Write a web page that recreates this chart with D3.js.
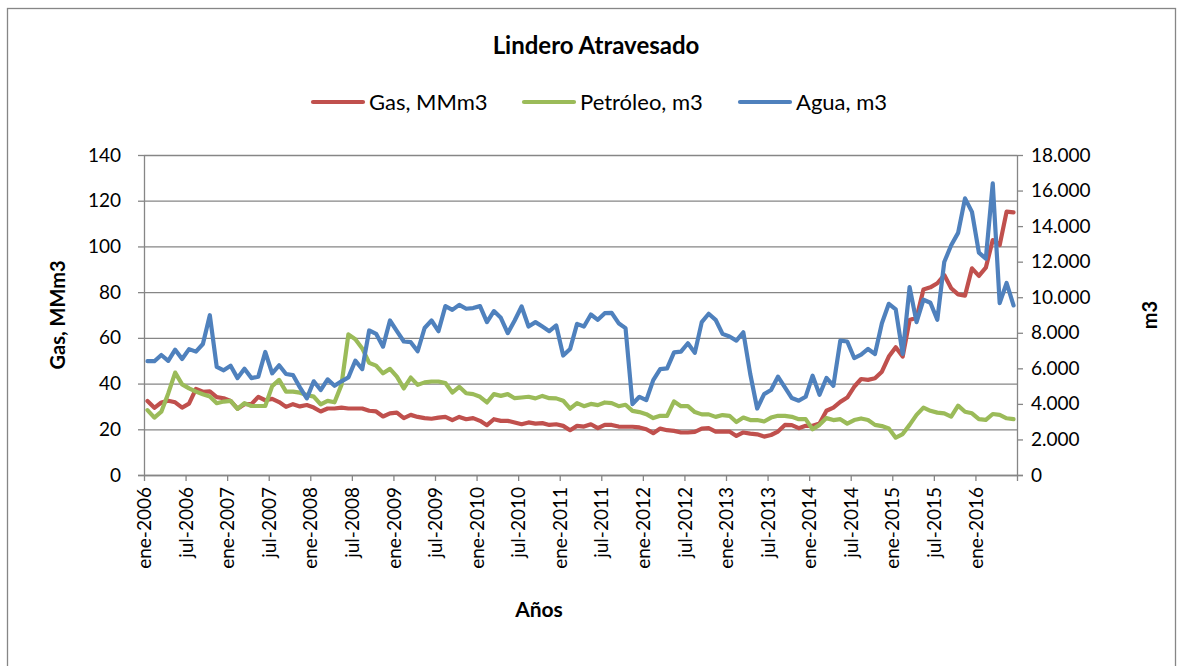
<!DOCTYPE html>
<html>
<head>
<meta charset="utf-8">
<script src="https://cdn.jsdelivr.net/npm/d3@7"></script>
<style>
  body { margin: 0; background: #fff; }
  text { font-family: Lato, "Liberation Sans", Arial, sans-serif; fill: #000; }
  .axis path, .axis line { stroke: #868686; stroke-width: 1.3; }
  .grid line { stroke: #868686; stroke-width: 1.3; }
  .grid path { display: none; }
</style>
</head>
<body>
<div id="chart"></div>
<script>
// monthly categories, ene-2006 .. jun-2016
var months = d3.timeMonth.range(new Date(2006, 0, 1), new Date(2016, 6, 1));

var tickLabels = ["ene-2006","jul-2006","ene-2007","jul-2007","ene-2008","jul-2008",
  "ene-2009","jul-2009","ene-2010","jul-2010","ene-2011","jul-2011","ene-2012",
  "jul-2012","ene-2013","jul-2013","ene-2014","jul-2014","ene-2015","jul-2015","ene-2016"];

var gasTicks = [0, 20, 40, 60, 80, 100, 120, 140];
var m3Ticks = [0, 2000, 4000, 6000, 8000, 10000, 12000, 14000, 16000, 18000];

// Gas, MMm3 (left axis)
var gas = [32.4,29.4,31.7,32.5,31.8,29.5,31.2,37.7,36.4,36.6,34.1,33.6,32.4,29.0,31.0,31.0,34.2,32.7,33.3,31.9,
  29.8,31.0,30.0,30.6,29.5,27.8,29.1,29.1,29.5,29.1,29.1,29.1,28.1,27.8,25.6,27.0,27.3,24.9,26.3,25.4,
  24.9,24.6,25.1,25.4,24.0,25.4,24.4,24.9,23.7,21.8,24.4,23.7,23.7,23.0,22.2,23.0,22.5,22.7,21.9,22.2,
  21.5,19.6,21.5,21.2,22.2,20.5,21.9,21.9,21.2,21.1,21.1,20.8,20.0,18.3,20.3,19.6,19.3,18.6,18.6,18.9,
  20.3,20.5,19.0,19.0,19.0,17.1,18.6,18.1,17.8,16.8,17.5,19.0,21.9,21.8,20.5,21.5,21.5,22.5,28.1,29.5,
  32.0,33.9,38.6,42.0,41.6,42.3,45.2,51.8,55.9,51.8,67.8,68.8,81.2,82.1,83.9,87.5,81.7,79.0,78.5,90.4,
  87.1,90.7,102.8,100.6,115.2,114.9];

// Petróleo, m3 (right axis)
var petroleo = [3650,3230,3560,4590,5760,5100,4870,4690,4540,4410,4040,4130,4170,3720,4040,3880,3880,3880,5000,5350,
  4690,4690,4630,4500,4410,3970,4170,4090,5070,7910,7640,7120,6310,6150,5720,5970,5530,4870,5480,5070,
  5210,5260,5260,5170,4640,4960,4600,4550,4400,4080,4550,4450,4550,4320,4360,4400,4310,4450,4320,4310,
  4180,3730,4040,3870,4000,3930,4080,4040,3870,3950,3610,3540,3420,3200,3330,3330,4140,3870,3870,3540,
  3410,3410,3270,3370,3330,2980,3230,3090,3090,3010,3230,3330,3330,3270,3140,3140,2570,2820,3200,3090,
  3140,2890,3090,3180,3090,2820,2750,2620,2100,2300,2820,3380,3790,3610,3510,3470,3280,3900,3560,3470,
  3140,3100,3430,3380,3190,3140];

// Agua, m3 (right axis)
var agua = [6400,6400,6750,6420,7050,6530,7080,6940,7370,8990,6080,5890,6150,5450,5980,5450,5530,6920,5720,6170,
  5680,5620,4930,4310,5270,4780,5380,5020,5270,5490,6430,5960,8130,7940,7220,8690,8090,7510,7470,6960,
  8270,8690,8090,9500,9290,9570,9350,9390,9500,8600,9220,8840,7980,8690,9480,8350,8600,8350,8090,8410,
  6720,7090,8500,8350,9030,8730,9100,9120,8540,8260,3990,4400,4210,5340,5960,6000,6900,6940,7410,6870,
  8600,9070,8730,7940,7790,7560,8030,5680,3740,4550,4780,5530,4930,4330,4180,4400,5590,4510,5460,5020,
  7560,7510,6580,6770,7090,6810,8540,9630,9310,6810,10570,8600,9860,9690,8730,11980,12920,13620,15560,14800,
  12510,12170,16400,9670,10800,9540];

var svgWidth = 1182, svgHeight = 666;
var margin = { top: 155, left: 144, right: 165, bottom: 191 };
var width = svgWidth - margin.left - margin.right;
var height = svgHeight - margin.top - margin.bottom;

var svg = d3.select("#chart").append("svg")
  .attr("width", svgWidth)
  .attr("height", svgHeight);

// chart area border
svg.append("rect")
  .attr("x", 7.5).attr("y", 8.5)
  .attr("width", 1168).attr("height", 700)
  .attr("fill", "none").attr("stroke", "#868686").attr("stroke-width", 1.3);

var chart = svg.append("g")
  .attr("transform", "translate(" + margin.left + "," + margin.top + ")");

var x = d3.scaleLinear().domain([0, months.length]).range([0, width]);
var yGas = d3.scaleLinear().domain([0, 140]).range([height, 0]);
var yM3 = d3.scaleLinear().domain([0, 18000]).range([height, 0]);

var es = d3.formatLocale({ decimal: ",", thousands: ".", grouping: [3], currency: ["", ""] });
var fmt = es.format(",");

// horizontal gridlines
chart.append("g")
  .attr("class", "grid")
  .call(d3.axisLeft(yGas).tickValues(gasTicks).tickSize(-width).tickFormat(""));

// left axis
var leftAxis = chart.append("g")
  .attr("class", "axis")
  .call(d3.axisLeft(yGas).tickValues(gasTicks).tickSize(6).tickSizeOuter(0).tickPadding(17));
leftAxis.selectAll("text").style("font-size", "19px");

// right axis
var rightAxis = chart.append("g")
  .attr("class", "axis")
  .attr("transform", "translate(" + width + ",0)")
  .call(d3.axisRight(yM3).tickValues(m3Ticks).tickSize(6).tickSizeOuter(0).tickPadding(8).tickFormat(fmt));
rightAxis.selectAll("text").style("font-size", "19px");

// bottom axis
var bottomAxis = chart.append("g")
  .attr("class", "axis")
  .attr("transform", "translate(0," + height + ")")
  .call(d3.axisBottom(x)
    .tickValues(d3.range(0, months.length + 1, 6))
    .tickSize(6).tickSizeOuter(0)
    .tickFormat(function(d) { return tickLabels[d / 6] || ""; }));
bottomAxis.select(".domain").attr("d", "M-6,0.5H" + (width + 6));
bottomAxis.selectAll("text")
  .style("font-size", "19px")
  .attr("text-anchor", "end")
  .attr("transform", "rotate(-90)")
  .attr("x", -12)
  .attr("y", 0)
  .attr("dy", "0.35em");

// lines
var series = [
  { name: "Gas, MMm3", values: gas, y: yGas, color: "#C0504D" },
  { name: "Petróleo, m3", values: petroleo, y: yM3, color: "#9BBB59" },
  { name: "Agua, m3", values: agua, y: yM3, color: "#4F81BD" }
];

series.forEach(function(s) {
  var line = d3.line()
    .x(function(d, i) { return x(i + 0.5); })
    .y(function(d) { return s.y(d); });
  chart.append("path")
    .datum(s.values)
    .attr("fill", "none")
    .attr("stroke", s.color)
    .attr("stroke-width", 4.2)
    .attr("stroke-linejoin", "round")
    .attr("stroke-linecap", "round")
    .attr("d", line);
});

// title
svg.append("text")
  .attr("x", 596).attr("y", 46)
  .attr("text-anchor", "middle").attr("dy", "0.35em")
  .style("font-size", "24px").style("font-weight", "bold")
  .text("Lindero Atravesado");

// legend
var legendX = [313, 524, 740];
var legend = svg.append("g");
series.forEach(function(s, i) {
  var g = legend.append("g").attr("transform", "translate(" + legendX[i] + ",102)");
  g.append("line").attr("x1", 0).attr("x2", 50)
    .attr("stroke", s.color).attr("stroke-width", 4.2).attr("stroke-linecap", "round");
  g.append("text").attr("x", 56).attr("dy", "0.35em")
    .style("font-size", "22px").text(s.name);
});

// axis titles
svg.append("text")
  .attr("transform", "translate(58," + (margin.top + height / 2) + ") rotate(-90)")
  .attr("text-anchor", "middle").attr("dy", "0.35em")
  .style("font-size", "20px").style("font-weight", "bold")
  .text("Gas, MMm3");

svg.append("text")
  .attr("transform", "translate(1150," + (margin.top + height / 2) + ") rotate(-90)")
  .attr("text-anchor", "middle").attr("dy", "0.35em")
  .style("font-size", "20px").style("font-weight", "bold")
  .text("m3");

svg.append("text")
  .attr("x", 539).attr("y", 610)
  .attr("text-anchor", "middle").attr("dy", "0.35em")
  .style("font-size", "21px").style("font-weight", "bold")
  .text("Años");
</script>
</body>
</html>
